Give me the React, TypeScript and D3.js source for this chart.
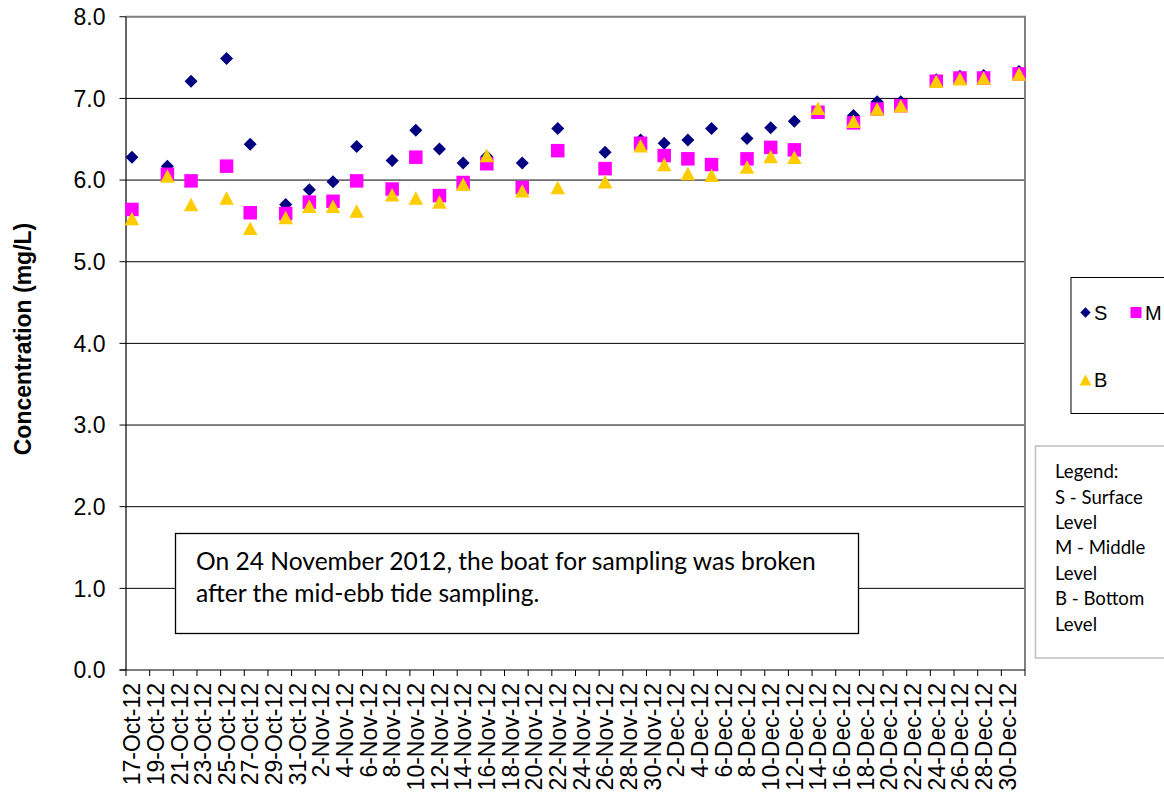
import React from "react";
import * as d3 from "d3";

const sampleDates = [
  "2012-10-17", "2012-10-20", "2012-10-22", "2012-10-25", "2012-10-27", "2012-10-30",
  "2012-11-01", "2012-11-03", "2012-11-05", "2012-11-08", "2012-11-10", "2012-11-12",
  "2012-11-14", "2012-11-16", "2012-11-19", "2012-11-22", "2012-11-26", "2012-11-29",
  "2012-12-01", "2012-12-03", "2012-12-05", "2012-12-08", "2012-12-10", "2012-12-12",
  "2012-12-14", "2012-12-17", "2012-12-19", "2012-12-21", "2012-12-24", "2012-12-26",
  "2012-12-28", "2012-12-31",
];

const surface = [
  6.28, 6.17, 7.21, 7.49, 6.44, 5.70, 5.88, 5.98, 6.41, 6.24, 6.61, 6.38,
  6.21, 6.29, 6.21, 6.63, 6.34, 6.49, 6.45, 6.49, 6.63, 6.51, 6.64, 6.72,
  6.84, 6.79, 6.96, 6.96, 7.23, 7.27, 7.28, 7.33,
];
const middle = [
  5.64, 6.07, 5.99, 6.17, 5.60, 5.59, 5.73, 5.74, 5.99, 5.89, 6.28, 5.81,
  5.97, 6.20, 5.91, 6.36, 6.14, 6.45, 6.30, 6.26, 6.19, 6.26, 6.40, 6.37,
  6.83, 6.70, 6.87, 6.91, 7.21, 7.25, 7.25, 7.30,
];
const bottom = [
  5.53, 6.05, 5.70, 5.78, 5.41, 5.54, 5.68, 5.68, 5.62, 5.82, 5.78, 5.73,
  5.95, 6.30, 5.87, 5.91, 5.98, 6.42, 6.19, 6.08, 6.06, 6.16, 6.29, 6.28,
  6.88, 6.72, 6.87, 6.91, 7.21, 7.24, 7.25, 7.30,
];

const yTicks = [0, 1, 2, 3, 4, 5, 6, 7, 8];
const axisStart = "2012-10-17";
const axisEnd = "2013-01-01";
const seriesNames = ["S", "M", "B"];
const legendNotes = ["Legend:", "S - Surface", "Level", "M - Middle", "Level", "B - Bottom", "Level"];
const noteLines = [
  "On 24 November 2012, the boat for sampling was broken",
  "after the mid-ebb tide sampling.",
];

const W = 1164;
const H = 800;
const left = 126;
const right = 1025;
const top = 16.75;
const bot = 670;

const COLORS = { S: "#000080", M: "#FF00FF", B: "#FFCC00" };

function diamond(cx: number, cy: number, r: number) {
  return `M${cx},${cy - r}L${cx + r},${cy}L${cx},${cy + r}L${cx - r},${cy}Z`;
}
function square(cx: number, cy: number, s: number) {
  const h = s / 2;
  return `M${cx - h},${cy - h}H${cx + h}V${cy + h}H${cx - h}Z`;
}
function triangle(cx: number, cy: number, w: number, h: number) {
  return `M${cx},${cy - h / 2}L${cx + w / 2},${cy + h / 2}L${cx - w / 2},${cy + h / 2}Z`;
}

export default function App() {
  const parse = d3.utcParse("%Y-%m-%d");
  const start = parse(axisStart) as Date;
  const end = parse(axisEnd) as Date;
  const x = d3.scaleUtc().domain([start, end]).range([left, right]);
  const y = d3.scaleLinear().domain([0, 8]).range([bot, top]);
  const fmt = d3.utcFormat("%-d-%b-%y");

  const tickDays = d3.utcDay.range(start, d3.utcDay.offset(end, 1), 2);
  const labelDays = d3.utcDay.range(start, end, 2);
  const mid = (d: Date) => x(d3.utcHour.offset(d, 12));

  const dates = sampleDates.map((s) => parse(s) as Date);
  const sans = "'Liberation Sans', Arial, sans-serif";
  const cal = "Lato, 'Open Sans', sans-serif";

  return (
    <svg
      width={W}
      height={H}
      style={{ position: "absolute", left: 0, top: 0, background: "#fff" }}
      xmlns="http://www.w3.org/2000/svg"
    >
      <rect x={0} y={0} width={W} height={H} fill="#fff" />
      {yTicks.filter((t) => t > 0 && t < 8).map((t) => (
        <line key={"g" + t} x1={left} x2={right} y1={y(t)} y2={y(t)} stroke="#000" strokeWidth={1} />
      ))}
      <line x1={left} x2={right + 1} y1={y(8)} y2={y(8)} stroke="#808080" strokeWidth={2} />
      <line x1={right} x2={right} y1={y(8)} y2={bot} stroke="#808080" strokeWidth={2} />
      <line x1={left} x2={left} y1={y(8)} y2={bot} stroke="#000" strokeWidth={1.2} />
      <line x1={left - 6.5} x2={right} y1={bot} y2={bot} stroke="#000" strokeWidth={1.2} />
      {yTicks.map((t) => (
        <g key={"yt" + t}>
          <line x1={left - 6.5} x2={left} y1={y(t)} y2={y(t)} stroke="#000" strokeWidth={1} />
          <text
            x={105.5}
            y={y(t)}
            dy="0.36em"
            textAnchor="end"
            fontFamily={sans}
            fontSize={23}
            fill="#000"
          >
            {t.toFixed(1)}
          </text>
        </g>
      ))}
      {tickDays.map((d, i) => (
        <line key={"xt" + i} x1={x(d)} x2={x(d)} y1={bot} y2={bot + 6} stroke="#000" strokeWidth={1} />
      ))}
      {labelDays.map((d, i) => (
        <text
          key={"xl" + i}
          transform={`translate(${mid(d)},${683}) rotate(-90)`}
          textAnchor="end"
          dy="0.36em"
          fontFamily={sans}
          fontSize={23}
          fill="#000"
        >
          {fmt(d)}
        </text>
      ))}
      <text
        transform={`translate(23,339) rotate(-90)`}
        textAnchor="middle"
        dy="0.36em"
        fontFamily={sans}
        fontSize={23}
        fontWeight="bold"
        fill="#000"
      >
        Concentration (mg/L)
      </text>

      {dates.map((d, i) => (
        <path key={"s" + i} d={diamond(mid(d), y(surface[i]), 6.5)} fill={COLORS.S} />
      ))}
      {dates.map((d, i) => (
        <path key={"m" + i} d={square(mid(d), y(middle[i]), 13.5)} fill={COLORS.M} />
      ))}
      {dates.map((d, i) => (
        <path key={"b" + i} d={triangle(mid(d), y(bottom[i]), 14.5, 13.5)} fill={COLORS.B} />
      ))}

      <rect x={175.5} y={533.5} width={683} height={100} fill="#fff" stroke="#000" strokeWidth={1.3} />
      {noteLines.map((l, i) => (
        <text key={"n" + i} x={196} y={570 + i * 32} fontFamily={cal} fontSize={24.6} fill="#000">
          {l}
        </text>
      ))}

      <rect x={1071} y={277.5} width={120} height={136} fill="#fff" stroke="#000" strokeWidth={1} />
      <path d={diamond(1085.5, 312.5, 5.2)} fill={COLORS.S} />
      <text x={1094} y={312.5} dy="0.36em" fontFamily={sans} fontSize={20} fill="#000">{seriesNames[0]}</text>
      <path d={square(1136, 312.5, 11)} fill={COLORS.M} />
      <text x={1145} y={312.5} dy="0.36em" fontFamily={sans} fontSize={20} fill="#000">{seriesNames[1]}</text>
      <path d={triangle(1085.5, 380, 12, 11)} fill={COLORS.B} />
      <text x={1094} y={380} dy="0.36em" fontFamily={sans} fontSize={20} fill="#000">{seriesNames[2]}</text>

      <rect x={1035.5} y={446} width={150} height={212} fill="#fff" stroke="#bfbfbf" strokeWidth={1.5} />
      {legendNotes.map((l, i) => (
        <text key={"ln" + i} x={1055} y={471.5 + i * 25.4} dy="0.36em" fontFamily={cal} fontSize={18.6} fill="#000">
          {l}
        </text>
      ))}
    </svg>
  );
}
